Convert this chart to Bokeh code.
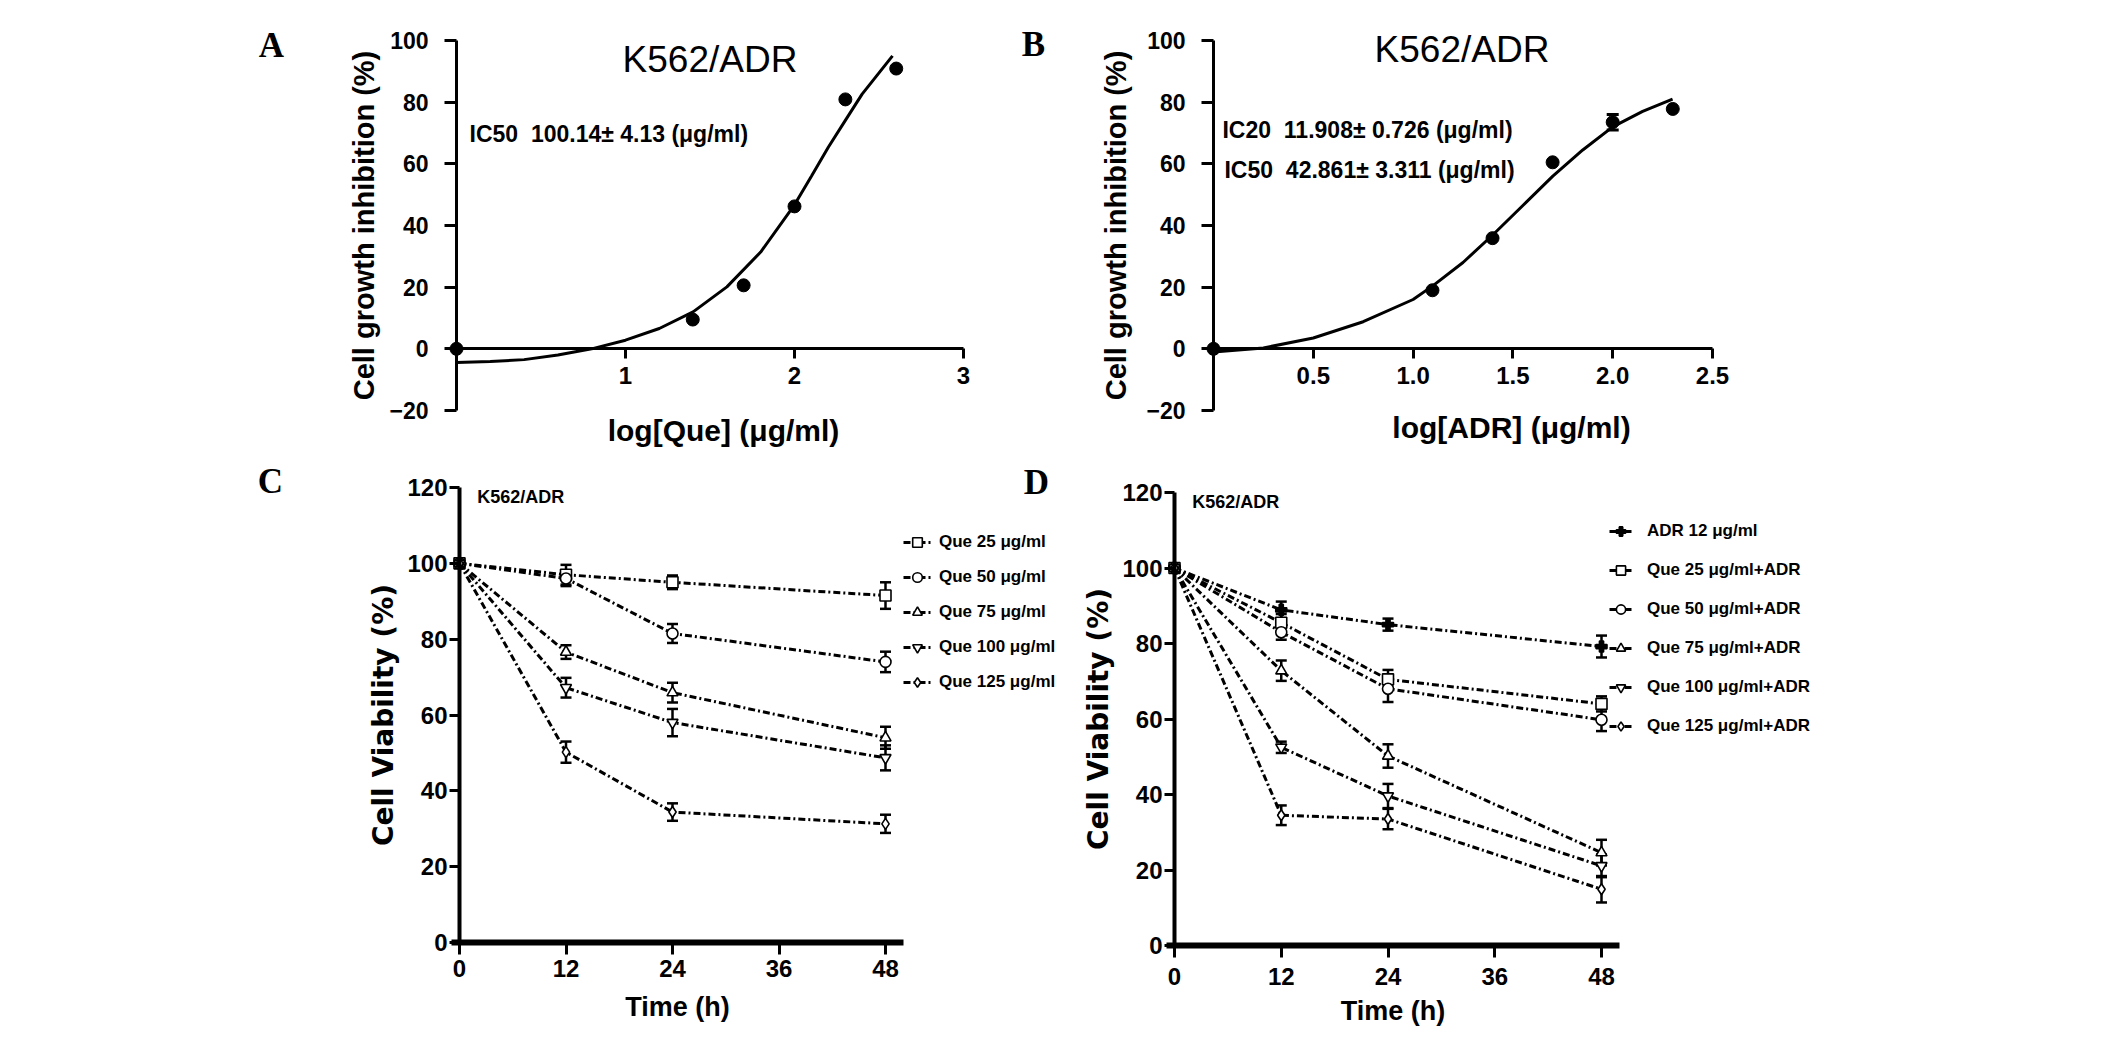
from bokeh.plotting import figure
from bokeh.models import (Range1d, FixedTicker, Label, Legend, LegendItem, Whisker,
                          TeeHead, ColumnDataSource, PrintfTickFormatter)
from bokeh.layouts import row, column
from bokeh.embed import file_html
from bokeh.resources import INLINE

SANS = "Liberation Sans"
WIDE = "DejaVu Sans"
SERIF = "Liberation Serif"

# ---------------- Panel A : Que dose response ----------------
a_log_que = [0.0, 1.398, 1.699, 2.0, 2.301, 2.602]
a_inhibition = [0.0, 9.5, 20.6, 46.2, 80.9, 90.9]
a_fit_x = [0.0, 0.2, 0.4, 0.6, 0.8, 1.0, 1.2, 1.4, 1.6, 1.8, 2.0, 2.1, 2.2, 2.3, 2.4, 2.5, 2.58]
a_fit_y = [-4.4, -4.1, -3.5, -2.0, 0.0, 2.8, 6.6, 12.0, 20.1, 31.4, 46.7, 56.0, 65.4, 74.0, 82.6, 89.5, 95.0]
a_x_ticks = [1, 2, 3]

# ---------------- Panel B : ADR dose response ----------------
b_log_adr = [0.0, 1.097, 1.398, 1.699, 2.0, 2.301]
b_inhibition = [0.0, 19.0, 35.9, 60.5, 73.5, 77.8]
b_error = [0.0, 0.0, 0.0, 0.0, 2.5, 0.0]
b_fit_x = [0.0, 0.25, 0.5, 0.75, 1.0, 1.1, 1.25, 1.4, 1.55, 1.7, 1.85, 2.0, 2.15, 2.3]
b_fit_y = [-1.0, 0.3, 3.5, 8.8, 16.0, 20.5, 28.0, 37.0, 46.5, 56.0, 64.5, 72.0, 77.0, 81.0]
b_x_ticks = [0.5, 1.0, 1.5, 2.0, 2.5]

ab_y_ticks = [-20, 0, 20, 40, 60, 80, 100]

# ---------------- Panel C : Que alone over time ----------------
time_h = [0, 12, 24, 48]
c_labels = ["Que 25 μg/ml", "Que 50 μg/ml", "Que 75 μg/ml", "Que 100 μg/ml", "Que 125 μg/ml"]
c_que25 = [100, 97.0, 95.0, 91.5]
c_que50 = [100, 96.0, 81.5, 74.0]
c_que75 = [100, 76.6, 65.9, 54.0]
c_que100 = [100, 67.2, 58.0, 48.7]
c_que125 = [100, 50.2, 34.4, 31.3]
c_err25 = [0, 2.6, 1.8, 3.5]
c_err50 = [0, 2.0, 2.5, 2.7]
c_err75 = [0, 1.8, 2.6, 2.9]
c_err100 = [0, 2.6, 3.6, 3.3]
c_err125 = [0, 2.8, 2.3, 2.4]
c_markers = ["square", "circle", "triangle", "inverted_triangle", "diamond"]

# ---------------- Panel D : Que + ADR over time ----------------
d_labels = ["ADR 12 μg/ml", "Que 25 μg/ml+ADR", "Que 50 μg/ml+ADR", "Que 75 μg/ml+ADR",
            "Que 100 μg/ml+ADR", "Que 125 μg/ml+ADR"]
d_adr = [100, 88.9, 85.0, 79.2]
d_que25 = [100, 85.5, 70.5, 64.0]
d_que50 = [100, 83.0, 68.0, 59.8]
d_que75 = [100, 72.8, 50.2, 24.6]
d_que100 = [100, 52.5, 39.6, 21.1]
d_que125 = [100, 34.5, 33.5, 14.9]
d_err_adr = [0, 2.2, 1.6, 2.9]
d_err25 = [0, 2.3, 2.5, 2.0]
d_err50 = [0, 2.0, 3.5, 3.0]
d_err75 = [0, 2.7, 3.1, 3.4]
d_err100 = [0, 1.5, 3.2, 3.0]
d_err125 = [0, 2.6, 2.7, 3.5]
d_markers = ["plus", "square", "circle", "triangle", "inverted_triangle", "diamond"]

time_ticks = [0, 12, 24, 36, 48]
viab_ticks = [0, 20, 40, 60, 80, 100, 120]


def make_fig(page_x, page_y, w, h, x_anchor, y_anchor):
    """x_anchor=(data0, px0, data1, px1) in page pixels; same for y."""
    d0, p0, d1, p1 = x_anchor
    kx = (p1 - p0) / (d1 - d0)
    xs = d0 - (p0 - page_x) / kx
    xe = d0 + (page_x + w - p0) / kx
    e0, q0, e1, q1 = y_anchor
    ky = (q1 - q0) / (e1 - e0)          # negative (page y grows downward)
    ye = e0 + (page_y - q0) / ky
    ys = e0 + (page_y + h - q0) / ky
    p = figure(width=w, height=h, x_range=Range1d(xs, xe), y_range=Range1d(ys, ye),
               output_backend="svg", toolbar_location=None,
               min_border_left=0, min_border_right=0, min_border_top=0, min_border_bottom=0)
    p.outline_line_color = None
    p.grid.visible = False
    p.background_fill_color = "white"
    p.border_fill_color = "white"
    return p


def style_axis(ax, size, line_w, tick_w, tick_out, standoff, loc, bounds, ticks):
    ax.fixed_location = loc
    ax.bounds = bounds
    ax.ticker = FixedTicker(ticks=ticks)
    ax.axis_line_width = line_w
    ax.axis_line_color = "black"
    ax.major_tick_line_width = tick_w
    ax.major_tick_line_color = "black"
    ax.major_tick_out = tick_out
    ax.major_tick_in = 0
    ax.minor_tick_line_color = None
    ax.major_label_text_font = SANS
    ax.major_label_text_font_size = size
    ax.major_label_text_font_style = "bold"
    ax.major_label_text_color = "black"
    ax.major_label_standoff = standoff


def axis_title(ax, text, size, standoff, font=SANS):
    ax.axis_label = text
    ax.axis_label_text_font = font
    ax.axis_label_text_font_size = size
    ax.axis_label_text_font_style = "bold"
    ax.axis_label_text_color = "black"
    ax.axis_label_standoff = standoff


def add_label(p, x, y, text, font, size, bold=True, align="left"):
    p.add_layout(Label(x=x, y=y, text=text, text_font=font, text_font_size=size,
                       text_font_style="bold" if bold else "normal",
                       text_align=align, text_baseline="middle", text_color="black"))


NB = "\u00a0"

# ================= Panel A =================
pA = make_fig(8, 8, 1000, 462, (0, 464, 3, 971), (100, 48, -20, 418))
style_axis(pA.yaxis[0], "23px", 3, 3, 12, 16, 0, (-20, 100), ab_y_ticks)
style_axis(pA.xaxis[0], "24px", 3, 3, 10, 8, 0, (0, 3), a_x_ticks)
axis_title(pA.yaxis[0], "Cell growth inhibition (%)", "29px", 6)
pA.line(a_fit_x, a_fit_y, line_width=3, color="black")
pA.scatter(a_log_que, a_inhibition, size=13, color="black")
add_label(pA, 1.5, 94.0, "K562/ADR", SANS, "37px", bold=False, align="center")
add_label(pA, 0.077, 69.7, "IC50" + NB + " 100.14± 4.13 (μg/ml)", SANS, "23px")
add_label(pA, 1.58, -26.5, "log[Que] (μg/ml)", SANS, "30px", align="center")
add_label(pA, -1.095, 98.4, "A", SERIF, "35px", align="center")

# ================= Panel B =================
pB = make_fig(1008, 8, 1108, 462, (0, 1221, 2.5, 1720), (100, 48, -20, 418))
style_axis(pB.yaxis[0], "23px", 3, 3, 12, 16, 0, (-20, 100), ab_y_ticks)
style_axis(pB.xaxis[0], "24px", 3, 3, 10, 8, 0, (0, 2.5), b_x_ticks)
pB.xaxis.formatter = PrintfTickFormatter(format="%.1f")
axis_title(pB.yaxis[0], "Cell growth inhibition (%)", "29px", 11)
pB.line(b_fit_x, b_fit_y, line_width=3, color="black")
b_src = ColumnDataSource(dict(x=[x for x, e in zip(b_log_adr, b_error) if e > 0],
                              up=[y + e for y, e in zip(b_inhibition, b_error) if e > 0],
                              lo=[y - e for y, e in zip(b_inhibition, b_error) if e > 0]))
pB.add_layout(Whisker(source=b_src, base="x", upper="up", lower="lo", line_width=3,
                      upper_head=TeeHead(size=12, line_width=3),
                      lower_head=TeeHead(size=12, line_width=3)))
pB.scatter(b_log_adr, b_inhibition, size=13, color="black")
add_label(pB, 1.245, 97.2, "K562/ADR", SANS, "37px", bold=False, align="center")
add_label(pB, 0.045, 70.9, "IC20" + NB + " 11.908± 0.726 (μg/ml)", SANS, "23px")
add_label(pB, 0.055, 57.9, "IC50" + NB + " 42.861± 3.311 (μg/ml)", SANS, "23px")
add_label(pB, 1.493, -25.5, "log[ADR] (μg/ml)", SANS, "30px", align="center")
add_label(pB, -0.902, 98.7, "B", SERIF, "35px", align="center")


def time_panel(p, means, errs, markers, labels, filled_first, leg_loc, spacing, glyph_w, standoff):
    items = []
    for i, (m, e, mk, lab) in enumerate(zip(means, errs, markers, labels)):
        rl = p.line(time_h, m, line_width=3, line_dash="7 3 2 3", color="black")
        src = ColumnDataSource(dict(t=[t for t, ee in zip(time_h, e) if ee > 0],
                                    up=[v + ee for v, ee in zip(m, e) if ee > 0],
                                    lo=[v - ee for v, ee in zip(m, e) if ee > 0]))
        p.add_layout(Whisker(source=src, base="t", upper="up", lower="lo", line_width=2.5,
                             line_color="black",
                             upper_head=TeeHead(size=11, line_width=2.5),
                             lower_head=TeeHead(size=11, line_width=2.5)))
        fill = "black" if (filled_first and i == 0) else "white"
        rs = p.scatter(time_h, m, marker=mk, size=11, fill_color=fill,
                       line_color="black", line_width=1.6)
        items.append(LegendItem(label=lab, renderers=[rl, rs]))
    leg = Legend(items=items, location=leg_loc, orientation="vertical",
                 glyph_width=glyph_w, glyph_height=24, label_height=24,
                 label_standoff=standoff, spacing=spacing, padding=0, margin=0,
                 border_line_color=None, background_fill_alpha=0,
                 label_text_font=SANS, label_text_font_size="17px",
                 label_text_font_style="bold", label_text_color="black")
    p.add_layout(leg)


def style_time_axes(p, y_standoff, x_standoff, x_lab_standoff):
    style_axis(p.yaxis[0], "24px", 4, 3, 10, 2, 0, (0, 120), viab_ticks)
    style_axis(p.xaxis[0], "24px", 6, 3, 12, x_standoff, 0, (-0.9, 50), time_ticks)
    axis_title(p.yaxis[0], "Cell Viability (%)", "28px", y_standoff, font=WIDE)
    axis_title(p.xaxis[0], "Time (h)", "27px", x_lab_standoff)


# ================= Panel C =================
pC = make_fig(8, 470, 1058, 582, (0, 467, 48, 893), (120, 495, 0, 950))
style_time_axes(pC, 4, 5, 12)
time_panel(pC, [c_que25, c_que50, c_que75, c_que100, c_que125],
           [c_err25, c_err50, c_err75, c_err100, c_err125],
           c_markers, c_labels, False, (903, 350), 11, 28, 8)
add_label(pC, 2.0, 117.6, "K562/ADR", SANS, "18px")
add_label(pC, -21.3, 121.6, "C", SERIF, "35px", align="center")
# panel letter D sits left of panel D's own canvas, so it is placed on C's canvas
add_label(pC, 65.0, 121.3, "D", SERIF, "35px", align="center")

# ================= Panel D =================
pD = make_fig(1066, 470, 1050, 582, (0, 1182, 48, 1609), (120, 500, 0, 953))
style_time_axes(pD, 4, 10, 8)
time_panel(pD, [d_adr, d_que25, d_que50, d_que75, d_que100, d_que125],
           [d_err_adr, d_err25, d_err50, d_err75, d_err100, d_err125],
           d_markers, d_labels, True, (551, 306), 15, 23, 15)
add_label(pD, 2.0, 117.4, "K562/ADR", SANS, "18px")

layout = column(row(pA, pB), row(pC, pD))
open("out.html", "w", encoding="utf-8").write(file_html(layout, INLINE))
